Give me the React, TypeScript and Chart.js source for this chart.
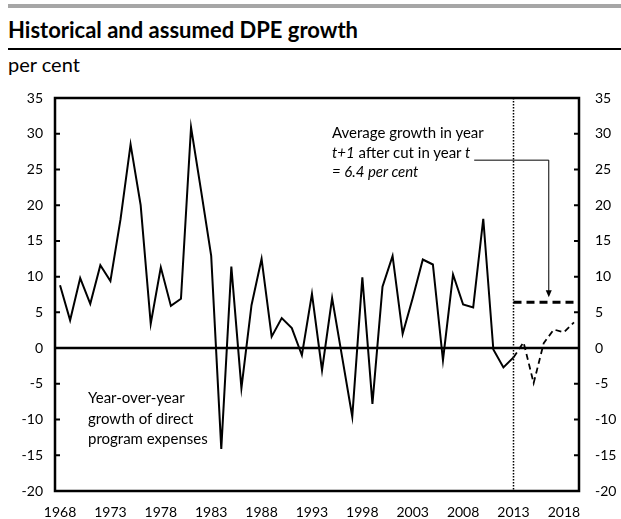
import React, { useEffect, useRef } from "react";
import { Chart, registerables } from "chart.js";

Chart.register(...registerables);

const years = [
  1968, 1969, 1970, 1971, 1972, 1973, 1974, 1975, 1976, 1977,
  1978, 1979, 1980, 1981, 1982, 1983, 1984, 1985, 1986, 1987,
  1988, 1989, 1990, 1991, 1992, 1993, 1994, 1995, 1996, 1997,
  1998, 1999, 2000, 2001, 2002, 2003, 2004, 2005, 2006, 2007,
  2008, 2009, 2010, 2011, 2012, 2013, 2014, 2015, 2016, 2017,
  2018, 2019,
];

// Year-over-year growth of direct program expenses, 1968-2013 (per cent)
const historical = [
  8.8, 3.9, 9.8, 6.2, 11.6, 9.4, 18.0, 28.5, 20.0, 3.4,
  11.3, 5.9, 6.9, 30.9, 22.0, 12.9, -14.1, 11.4, -5.6, 6.0,
  12.5, 1.6, 4.2, 2.8, -1.0, 7.6, -3.1, 7.0, -1.3, -9.6,
  9.9, -7.8, 8.6, 12.9, 2.0, 7.0, 12.4, 11.7, -1.7, 10.3,
  6.1, 5.7, 18.1, -0.2, -2.7, -1.3,
];

// Assumed growth, 2013-2019 (per cent)
const projectedYears = [2013, 2014, 2015, 2016, 2017, 2018, 2019];
const projected = [-1.3, 0.8, -4.9, 0.7, 2.6, 2.2, 3.6];

// Average growth in year t+1 after cut in year t
const averageGrowth = 6.4;
const cutYear = 2013;

const yMin = -20;
const yMax = 35;
const yStep = 5;

const FONT = "Lato";

export default function App() {
  const canvasRef = useRef<HTMLCanvasElement | null>(null);

  useEffect(() => {
    const canvas = canvasRef.current;
    if (!canvas) return;

    const histData = years.map((yr, i) => (i < historical.length ? historical[i] : null));
    const projData = years.map((yr) => {
      const k = projectedYears.indexOf(yr);
      return k >= 0 ? projected[k] : null;
    });
    const avgData = years.map((yr) => (yr >= cutYear ? averageGrowth : null));
    const cutIndex = years.indexOf(cutYear);

    const annot = {
      id: "annot",
      beforeDatasetsDraw(chart: any) {
        const { ctx, chartArea: a, scales } = chart;
        const y = scales.y;
        ctx.save();
        const y0 = y.getPixelForValue(0);
        ctx.strokeStyle = "#000";
        ctx.lineWidth = 2.5;
        ctx.beginPath();
        ctx.moveTo(a.left, y0);
        ctx.lineTo(a.right, y0);
        ctx.stroke();
        ctx.restore();
      },
      afterDatasetsDraw(chart: any) {
        const { ctx, chartArea: a, scales } = chart;
        const x = scales.x;
        const y = scales.y;
        ctx.save();
        // dotted vertical at cut year
        const xc = x.getPixelForValue(cutIndex);
        ctx.strokeStyle = "#000";
        ctx.lineWidth = 1.5;
        ctx.setLineDash([1.5, 1.5]);
        ctx.beginPath();
        ctx.moveTo(xc, a.top);
        ctx.lineTo(xc, a.bottom);
        ctx.stroke();
        ctx.setLineDash([]);

        // arrow from annotation to average line
        const xs = x.getPixelForValue(years.indexOf(2009) + 0.1);
        const xe = x.getPixelForValue(years.indexOf(2016) + 0.5);
        const yh = y.getPixelForValue(26.3);
        const yt = y.getPixelForValue(averageGrowth + 0.7);
        ctx.lineWidth = 1;
        ctx.beginPath();
        ctx.moveTo(xs, yh);
        ctx.lineTo(xe, yh);
        ctx.lineTo(xe, yt - 6);
        ctx.stroke();
        ctx.fillStyle = "#000";
        ctx.beginPath();
        ctx.moveTo(xe - 3, yt - 7);
        ctx.lineTo(xe + 3, yt - 7);
        ctx.lineTo(xe, yt);
        ctx.closePath();
        ctx.fill();

        // frame
        ctx.lineWidth = 2.5;
        ctx.strokeRect(a.left, a.top, a.right - a.left, a.bottom - a.top);

        // inner tick marks
        ctx.lineWidth = 2;
        for (let v = yMin; v <= yMax; v += yStep) {
          const py = y.getPixelForValue(v);
          ctx.beginPath();
          ctx.moveTo(a.left, py);
          ctx.lineTo(a.left + 5, py);
          ctx.moveTo(a.right - 5, py);
          ctx.lineTo(a.right, py);
          ctx.stroke();
        }
        ctx.restore();
      },
    };

    const tickFont = { family: FONT, size: 14 };

    const chart = new Chart(canvas, {
      type: "line",
      data: {
        labels: years.map(String),
        datasets: [
          {
            data: histData,
            borderColor: "#000",
            borderWidth: 2,
            pointRadius: 0,
            tension: 0,
            spanGaps: false,
          },
          {
            data: projData,
            borderColor: "#000",
            borderWidth: 1.8,
            borderDash: [6, 4],
            pointRadius: 0,
            tension: 0,
          },
          {
            data: avgData,
            borderColor: "#000",
            borderWidth: 3,
            borderDash: [8, 5],
            pointRadius: 0,
            tension: 0,
          },
        ],
      },
      options: {
        responsive: false,
        animation: false,
        events: [],
        layout: { padding: { top: 98, left: 0, right: 0, bottom: 0 } },
        plugins: {
          legend: { display: false },
          tooltip: { enabled: false },
          title: { display: false },
        },
        scales: {
          x: {
            type: "category",
            offset: true,
            grid: { display: false, drawTicks: false },
            border: { display: false },
            ticks: {
              autoSkip: false,
              maxRotation: 0,
              minRotation: 0,
              padding: 13,
              color: "#000",
              font: tickFont,
              callback: (_v: any, i: number) =>
                (years[i] - 1968) % 5 === 0 ? String(years[i]) : "",
            },
            afterFit: (s: any) => {
              s.height = 28;
            },
          },
          y: {
            position: "left",
            min: yMin,
            max: yMax,
            grid: { display: false, drawTicks: false },
            border: { display: false },
            ticks: { stepSize: yStep, padding: 12, color: "#000", font: tickFont },
            afterFit: (s: any) => {
              s.width = 55;
            },
          },
          y2: {
            position: "right",
            min: yMin,
            max: yMax,
            grid: { display: false, drawTicks: false },
            border: { display: false },
            ticks: { stepSize: yStep, padding: 16, color: "#000", font: tickFont },
            afterFit: (s: any) => {
              s.width = 42;
            },
          },
        },
      } as any,
      plugins: [annot],
    });

    return () => chart.destroy();
  }, []);

  const textStyle: React.CSSProperties = {
    position: "absolute",
    fontFamily: FONT,
    fontSize: 15,
    lineHeight: "19.5px",
    color: "#000",
    whiteSpace: "nowrap",
  };

  return (
    <div
      style={{
        position: "absolute",
        left: 0,
        top: 0,
        width: 621,
        height: 519,
        background: "#fff",
        overflow: "hidden",
      }}
    >
      <div
        style={{
          position: "absolute",
          left: 8,
          right: 0,
          top: 4,
          height: 4,
          background: "#a6a6a6",
        }}
      />
      <div
        style={{
          position: "absolute",
          left: 8,
          top: 16,
          fontFamily: FONT,
          fontWeight: 700,
          fontSize: 22,
          lineHeight: "28px",
          color: "#000",
          whiteSpace: "nowrap",
        }}
      >
        Historical and assumed DPE growth
      </div>
      <div
        style={{
          position: "absolute",
          left: 8,
          right: 0,
          top: 48,
          height: 2,
          background: "#000",
        }}
      />
      <div
        style={{
          position: "absolute",
          left: 8,
          top: 51,
          fontFamily: FONT,
          fontSize: 20,
          lineHeight: "26px",
          color: "#000",
          whiteSpace: "nowrap",
        }}
      >
        per cent
      </div>
      <canvas
        ref={canvasRef}
        width={621}
        height={519}
        style={{ position: "absolute", left: 0, top: 0, display: "block" }}
      />
      <div style={{ ...textStyle, left: 332, top: 123 }}>
        Average growth in year
        <br />
        <i>t+1</i> after cut in year <i>t</i>
        <br />
        <i>= 6.4 per cent</i>
      </div>
      <div style={{ ...textStyle, left: 88, top: 387, lineHeight: "20.5px" }}>
        Year-over-year
        <br />
        growth of direct
        <br />
        program expenses
      </div>
    </div>
  );
}
